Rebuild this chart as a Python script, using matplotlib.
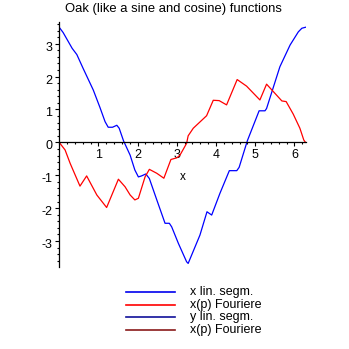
import numpy as np
import matplotlib
matplotlib.use("Agg")
import matplotlib.pyplot as plt
from matplotlib.lines import Line2D
from matplotlib.ticker import MultipleLocator
from matplotlib.transforms import ScaledTranslation

plt.rcParams['font.family'] = ['Liberation Sans', 'DejaVu Sans']

title = "Oak (like a sine and cosine) functions"
axis_label = "x"
legend_labels = ["x lin. segm.", "x(p) Fouriere", "y lin. segm.", "x(p) Fouriere"]
legend_colors = ["#0000ee", "#ff0000", "#10109a", "#8a1a1a"]

# x lin. segm. (blue)
x_seg_t = [0.0, 0.10, 0.33, 0.45, 0.61, 0.87, 1.04, 1.17, 1.25, 1.36, 1.47, 1.53,
           1.64, 1.81, 1.93, 2.02, 2.10, 2.21, 2.30, 2.49, 2.70, 2.81, 2.87, 3.04,
           3.25, 3.29, 3.59, 3.77, 3.89, 4.10, 4.34, 4.53, 4.59, 4.80, 5.10, 5.25,
           5.29, 5.63, 5.89, 6.10, 6.19, 6.283]
x_seg_v = [3.50, 3.34, 2.86, 2.67, 2.25, 1.59, 1.06, 0.63, 0.46, 0.46, 0.52, 0.43,
           0.05, -0.39, -0.84, -1.05, -1.02, -0.96, -1.10, -1.75, -2.46, -2.46, -2.57, -3.07,
           -3.63, -3.68, -2.82, -2.11, -2.21, -1.55, -0.86, -0.86, -0.76, 0.05, 0.96, 0.96,
           1.03, 2.30, 2.96, 3.36, 3.47, 3.50]

# x(p) Fouriere (red)
four_t = [0.0, 0.15, 0.28, 0.53, 0.70, 0.96, 1.21, 1.51, 1.68, 1.81, 1.93, 2.02,
          2.19, 2.30, 2.49, 2.67, 2.85, 3.00, 3.08, 3.25, 3.29, 3.42, 3.76, 3.93,
          4.08, 4.27, 4.54, 4.78, 5.12, 5.29, 5.68, 5.79, 5.97, 6.14, 6.24, 6.283]
four_v = [0.0, -0.23, -0.64, -1.33, -1.02, -1.60, -1.98, -1.12, -1.35, -1.60, -1.75, -1.70,
          -1.05, -0.82, -0.94, -1.09, -0.52, -0.47, -0.39, -0.03, 0.20, 0.43, 0.81, 1.28,
          1.27, 1.14, 1.91, 1.71, 1.29, 1.77, 1.26, 1.24, 0.86, 0.43, 0.07, 0.0]

W, H = 349, 349
fig = plt.figure(figsize=(W / 100, H / 100), dpi=100)
left, right, top, bottom = 59.2, 305.5, 22.0, 266.7
ax = fig.add_axes([left / W, 1 - bottom / H, (right - left) / W, (bottom - top) / H])

ax.plot(x_seg_t, x_seg_v, color="#0000ff", lw=0.9)
ax.plot(four_t, four_v, color="#ff0000", lw=0.9)

ax.set_xlim(0, 2 * np.pi)
ax.set_ylim(-3.78, 3.66)

for s in ("top", "right"):
    ax.spines[s].set_visible(False)
ax.spines["bottom"].set_position(("data", 0))
for s in ("bottom", "left"):
    ax.spines[s].set_linewidth(0.9)

ax.xaxis.set_major_locator(MultipleLocator(1))
ax.xaxis.set_minor_locator(MultipleLocator(0.2))
ax.yaxis.set_major_locator(MultipleLocator(1))
ax.yaxis.set_minor_locator(MultipleLocator(0.2))
ax.set_xticks([1, 2, 3, 4, 5, 6])
ax.set_xticklabels(["1", "2", "3", "4", "5", "6"])
ax.set_yticks([-3, -2, -1, 0, 1, 2, 3])
ax.set_yticklabels(["-3", "-2", "-1", "0", "1", "2", "3"])
ax.tick_params(which="major", direction="out", length=3.0, width=0.8, labelsize=9, pad=2)
ax.tick_params(which="minor", direction="out", length=1.6, width=0.8)

# y tick labels sit a little below their tick marks
shift = ScaledTranslation(0, -2.5 / 100, fig.dpi_scale_trans)
for tk in ax.yaxis.get_major_ticks():
    tk.label1.set_transform(tk.label1.get_transform() + shift)

ax.text(np.pi, -1.06, axis_label, ha="center", va="center", fontsize=8.5)

fig.text(173.5 / W, 1 - 9 / H, title, ha="center", va="center", fontsize=9.4)

rows = [291.7, 305.0, 317.3, 330.0]
for lab, col, yy in zip(legend_labels, legend_colors, rows):
    fig.add_artist(Line2D([126 / W, 175 / W], [1 - yy / H, 1 - yy / H],
                          transform=fig.transFigure, color=col, lw=1.2))
    fig.text(190.5 / W, 1 - yy / H, lab, ha="left", va="center", fontsize=9)

fig.savefig("out.png", dpi=100)
